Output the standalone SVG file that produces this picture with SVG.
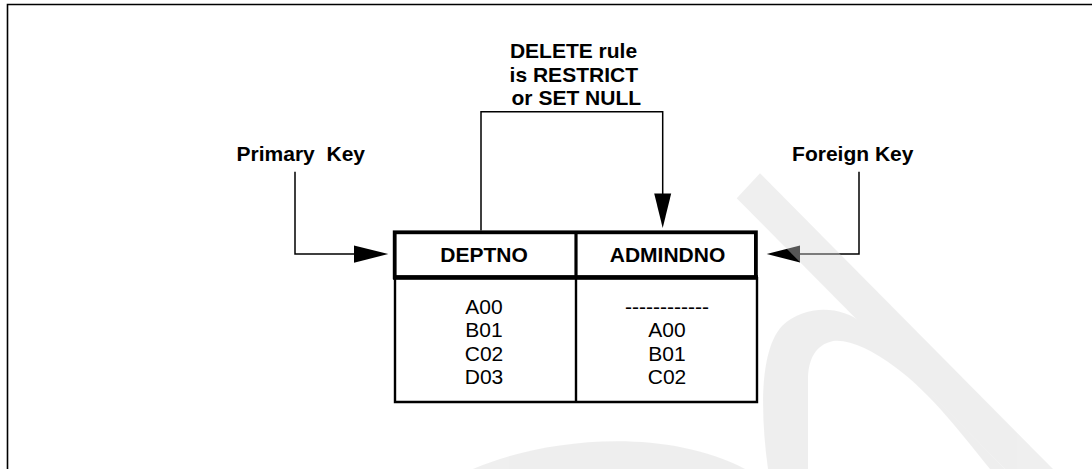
<svg xmlns="http://www.w3.org/2000/svg" width="1092" height="469" viewBox="0 0 1092 469">
<defs>
<style>
.lbl{font-family:"Liberation Sans",Arial,sans-serif;font-weight:bold;font-size:21px;fill:#000;text-anchor:middle}
.val{font-family:"Liberation Sans",Arial,sans-serif;font-size:21px;fill:#000;text-anchor:middle}
.conn{fill:none;stroke:#000;stroke-width:1.5}
.head{fill:#000;stroke:none}
.thick{fill:none;stroke:#000;stroke-width:3.8}
.thin{fill:none;stroke:#000;stroke-width:2.4}
</style>
</defs>
<rect width="1092" height="469" fill="#fff"/>
<g id="frame"><path d="M7.5 469 V4.5 H1092" fill="none" stroke="#000" stroke-width="1.6"/></g>

<g id="table">
<g id="body">
<path class="thin" d="M395 277 V402 H757 V277 M576 277 V402"/>
<text class="val" x="484" y="314">A00</text>
<text class="val" x="484" y="337.3">B01</text>
<text class="val" x="484" y="360.7">C02</text>
<text class="val" x="484" y="384">D03</text>
<text class="val" x="667" y="314">------------</text>
<text class="val" x="667" y="337.3">A00</text>
<text class="val" x="667" y="360.7">B01</text>
<text class="val" x="667" y="384">C02</text>
</g>
<g id="header">
<rect class="thick" x="394.7" y="232.3" width="361.2" height="45"/>
<line x1="576" y1="232" x2="576" y2="277" stroke="#000" stroke-width="3.2"/>
<line x1="393" y1="277.5" x2="758" y2="277.5" stroke="#000" stroke-width="4.5"/>
<text class="lbl" x="484" y="261.7">DEPTNO</text>
<text class="lbl" x="667.5" y="261.7">ADMINDNO</text>
</g>
</g>

<g id="label-delete">
<text class="lbl" x="573.5" y="58.3">DELETE rule</text>
<text class="lbl" x="573.8" y="81.7">is RESTRICT</text>
<text class="lbl" x="576.3" y="105">or SET NULL</text>
</g>
<g id="label-primary">
<text class="lbl" x="300.8" y="161" xml:space="preserve">Primary  Key</text>
</g>
<g id="label-foreign">
<text class="lbl" x="852.8" y="161">Foreign Key</text>
</g>

<g id="connectors">
<path class="conn" d="M481 230.5 V111.7 H662.7 V200"/>
<polygon class="head" points="654.2,193.5 671.2,193.5 662.7,228"/>
<path class="conn" d="M295 171.7 V254 H360"/>
<polygon class="head" points="354,245.5 354,262.7 388.3,254"/>
<path class="conn" d="M859 171.7 V254 H795"/>
<polygon class="head" points="800,245.5 800,262.5 766.7,254"/>
</g>

<g id="watermark" opacity="0.4" fill="#d7d7d7">
<path d="M736.7 198.3 L760 173.3 L1053 469 L1005 469 Z"/>
<path d="M768 469 C760 410 760 350 782 326 C805 304 842 306 862 323 L1005 469 L990 469 C965 438 930 392 895 367 C872 350 850 339 833 341 C815 345 808 360 808 380 L808 469 Z"/>
<path d="M473 469 C540 440 660 425 745 469 Z"/>
</g>
</svg>
